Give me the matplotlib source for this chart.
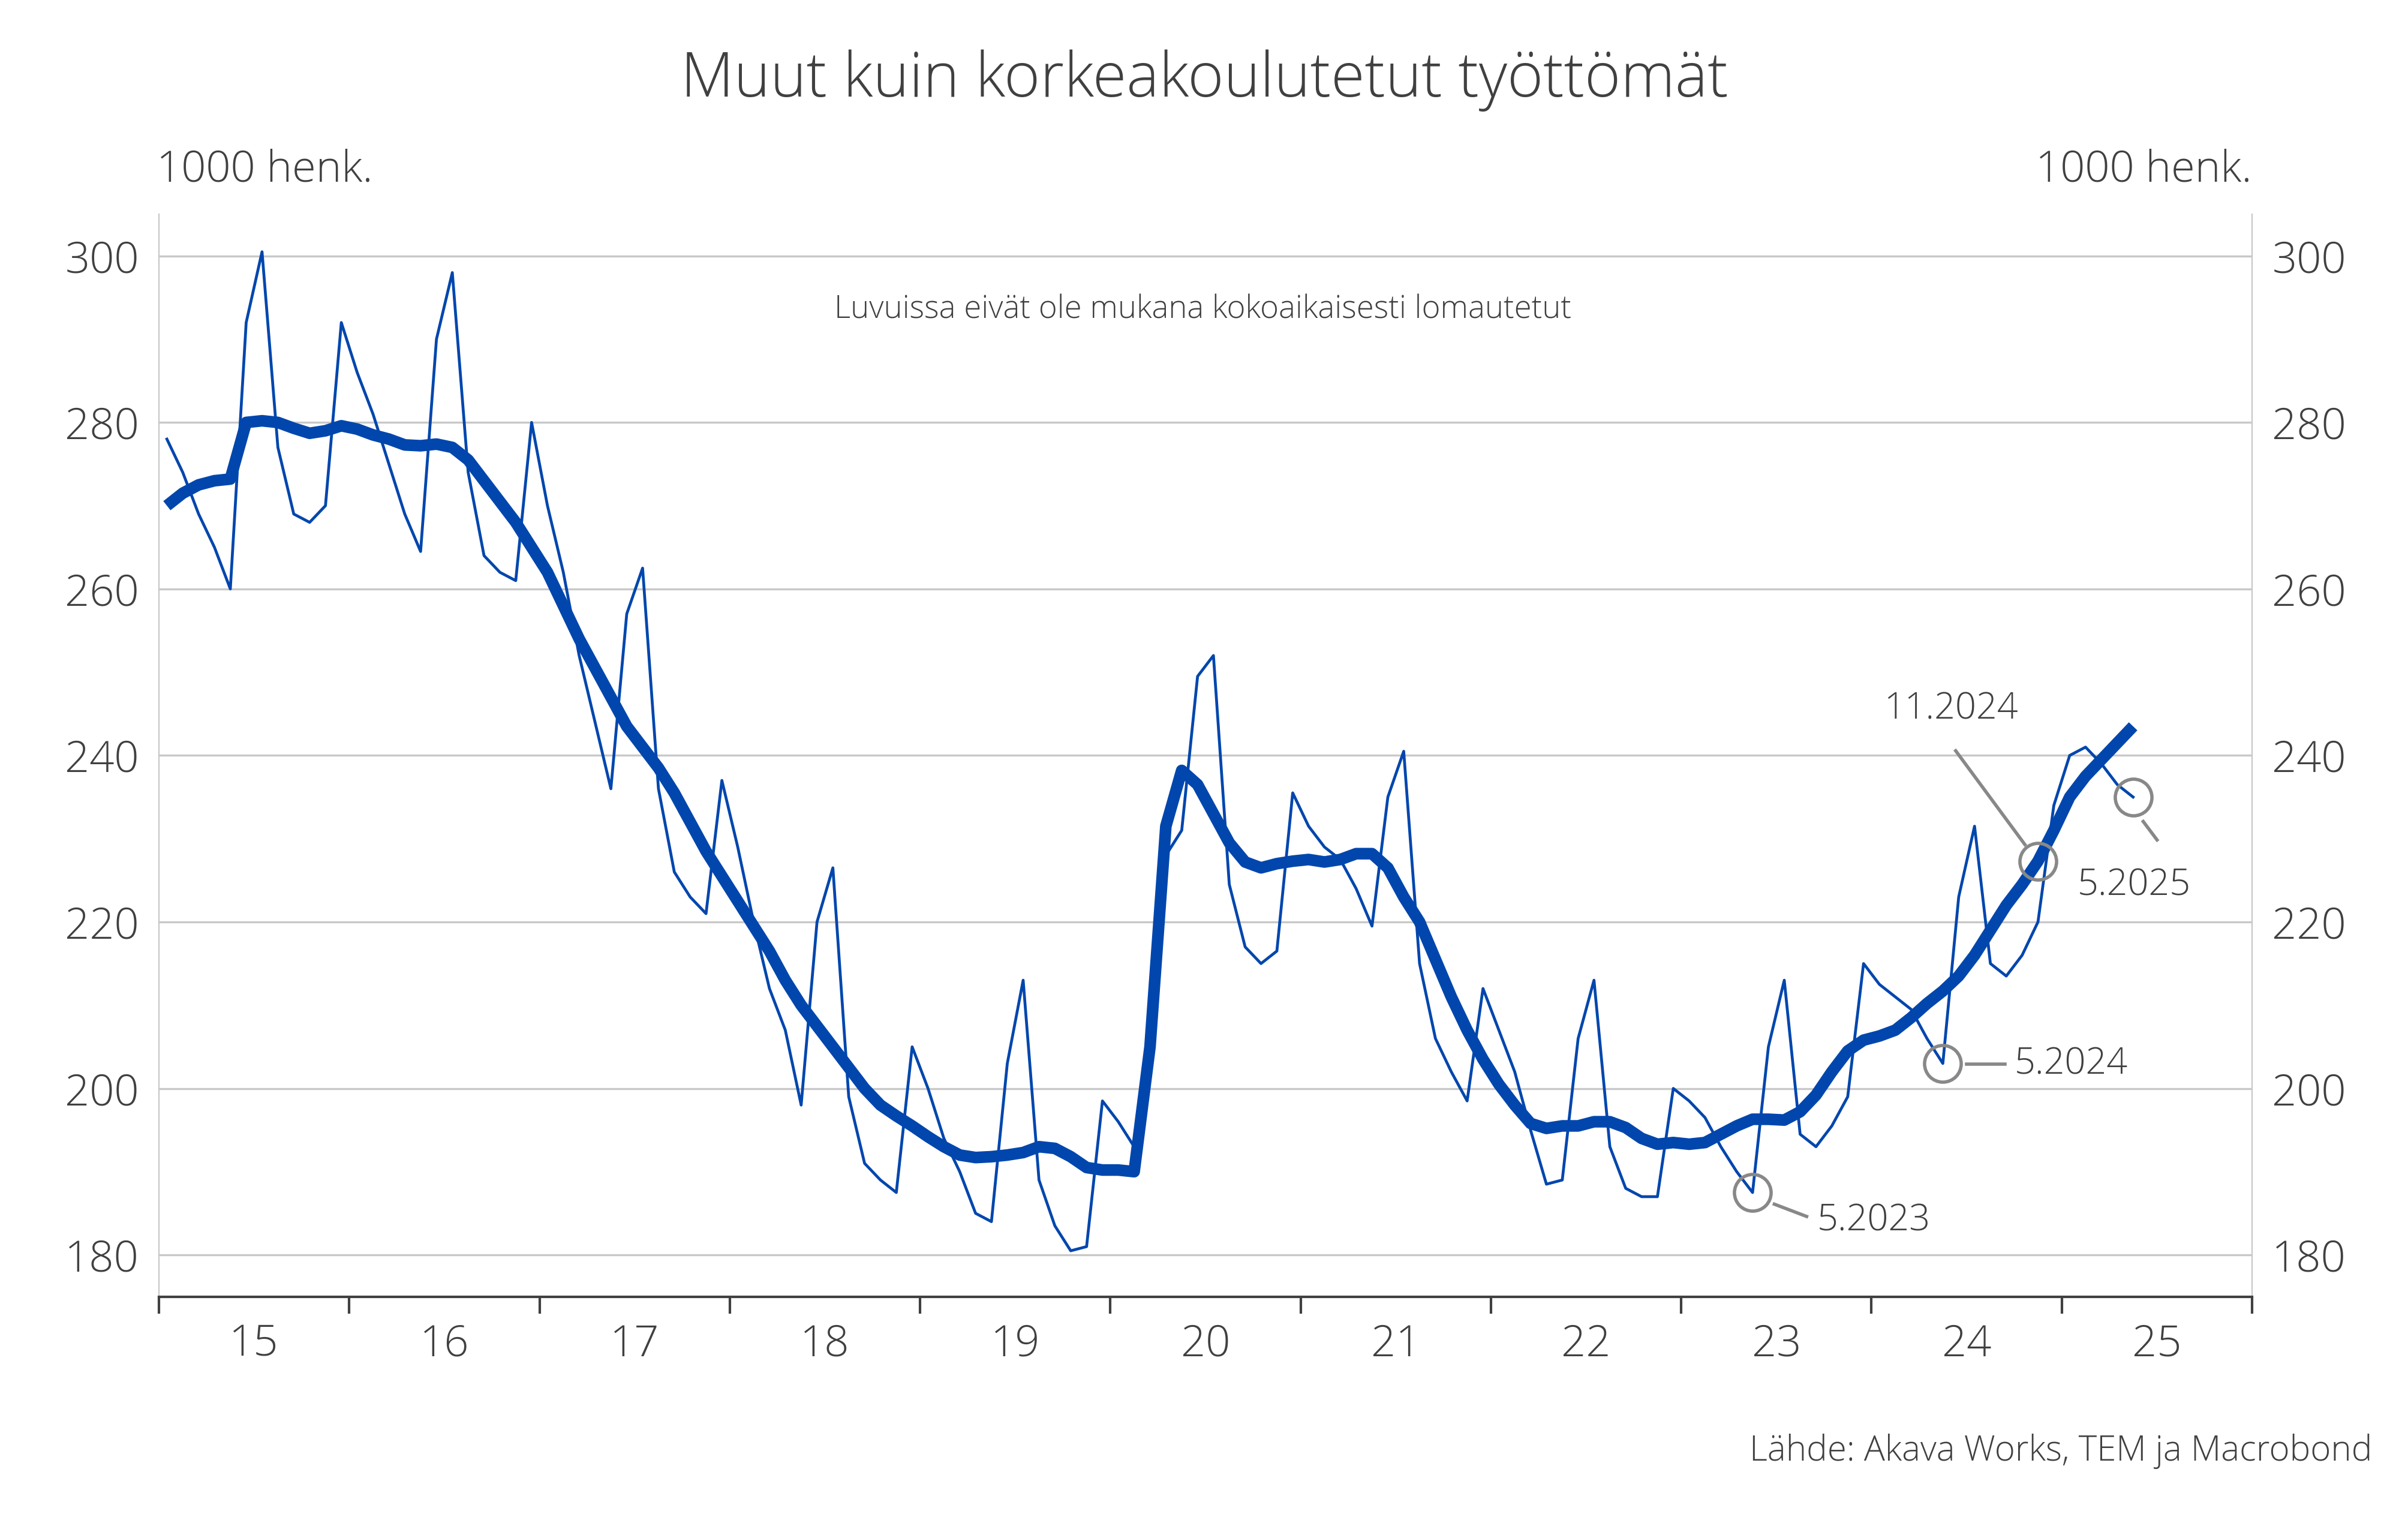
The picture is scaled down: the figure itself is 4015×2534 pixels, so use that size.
import matplotlib
matplotlib.use("Agg")
import matplotlib.pyplot as plt
import numpy as np

start_year = 2015
monthly = [278,274,269,265,260,292,300.5,277,269,268,270,292,
           286,281,275,269,264.5,290,298,274,264,262,261,280,
           270,262,252,244,236,257,262.5,236,226,223,221,237,
           229,220,212,207,198,220,226.5,199,191,189,187.5,205,
           200,194,190,185,184,203,213,189,183.5,180.5,181,198.5,
           196,193,206,228,231,249.5,252,224.5,217,215,216.5,235.5,
           231.5,229,227.5,224,219.5,235,240.5,215,206,202,198.5,212,
           207,202,195,188.5,189,206,213,193,188,187,187,200,
           198.5,196.5,193,190,187.5,205,213,194.5,193,195.5,199,215,
           212.5,211,209.5,206,203,223,231.5,215,213.5,216,220,234,
           240,241,239,236.5,235]
trend = [270,271.5,272.5,273,273.2,280,280.2,280,279.3,278.7,279,279.6,
         279.2,278.5,278,277.3,277.2,277.4,277,275.5,273,270.5,268,265,
         262,258,254,250.5,247,243.5,241,238.5,235.5,232,228.5,225.5,
         222.5,219.5,216.5,213,210,207.5,205,202.5,200,198,196.7,195.5,
         194.2,193,192,191.7,191.8,192,192.3,193,192.8,191.8,190.5,190.2,
         190.2,190,205,231.5,238.2,236.5,233,229.5,227.2,226.5,227,227.3,
         227.5,227.2,227.5,228.2,228.2,226.5,223,220,215.5,211,207,203.5,
         200.5,198,195.8,195.2,195.5,195.5,196,196,195.3,194,193.3,193.5,
         193.3,193.5,194.5,195.5,196.3,196.3,196.2,197.2,199.2,202,204.5,205.8,
         206.3,207,208.5,210.2,211.7,213.5,216,219,222,224.5,227.3,231,
         235,237.5,239.5,241.5,243.5]
year_labels = ["15","16","17","18","19","20","21","22","23","24","25"]
yticks = [180,200,220,240,260,280,300]

x = start_year + (np.arange(len(monthly)) + 0.5) / 12
blue = "#0046AD"; grey = "#404040"; lg = "#C8C8C8"; cg = "#888888"
FF = dict(family="Open Sans", weight="light")

fig = plt.figure(figsize=(20.08, 12.67), dpi=200)
ax = fig.add_axes([0.066, 0.147, 0.869, 0.712])
ax.set_ylim(175, 305); ax.set_xlim(2015, 2026)
ax.set_yticks(yticks)
ax.grid(axis="y", color=lg, lw=1.2)
ax.set_axisbelow(True)
ax.plot(x, monthly, color=blue, lw=1.7)
ax.plot(x, trend, color=blue, lw=7, solid_capstyle="butt")
ax.set_xticks(range(2015, 2027))
ax.set_xticklabels([])
ax.set_xticks([y + 0.5 for y in range(2015, 2026)], minor=True)
ax.set_xticklabels(year_labels, minor=True, fontsize=26, color=grey, **FF)
ax.tick_params(axis="x", which="major", length=10, width=1.5, color=grey)
ax.tick_params(axis="x", which="minor", length=0, pad=16)
ax.tick_params(axis="y", length=0, labelsize=26, labelcolor=grey, pad=12,
               labelleft=True, labelright=True)
for lab in ax.get_yticklabels():
    lab.set_family("Open Sans"); lab.set_weight("light")
for s in ["left", "right"]:
    ax.spines[s].set_color(lg)
ax.spines["top"].set_visible(False)
ax.spines["bottom"].set_color(grey); ax.spines["bottom"].set_linewidth(1.5)

def dc(xd, yd):
    return 2015 + (xd - 104) / 123.8, 300 - (yd - 167) / 5.417

ring = dict(marker="o", ms=22, mfc="none", mec=cg, mew=2, ls="none")
ax.plot(x[118], trend[118], **ring)
ax.plot(x[124], monthly[124], **ring)
ax.plot(x[112], monthly[112], **ring)
ax.plot(x[100], monthly[100], **ring)
for (a, b) in [((1273, 489), (1318, 550)), ((1395, 535), (1404, 547)),
               ((1280, 693), (1305, 693)), ((1155, 784), (1176, 792))]:
    p, q = dc(*a), dc(*b)
    ax.plot([p[0], q[0]], [p[1], q[1]], color=cg, lw=2)
for txt, pos, ha in [("11.2024", (1270, 462), "center"), ("5.2025", (1352, 577), "left"),
                     ("5.2024", (1311, 693), "left"), ("5.2023", (1183, 795), "left")]:
    ax.text(*dc(*pos), txt, ha=ha, va="center", fontsize=22, color=grey, **FF)
ax.text(*dc(783, 202), "Luvuissa eivät ole mukana kokoaikaisesti lomautetut",
        ha="center", va="center", fontsize=19, color=grey, **FF)

fig.text(0.5, 0.947, "Muut kuin korkeakoulutetut työttömät", ha="center", va="center",
         fontsize=37, color=grey, **FF)
fig.text(0.065, 0.888, "1000 henk.", ha="left", va="center", fontsize=26, color=grey, **FF)
fig.text(0.935, 0.888, "1000 henk.", ha="right", va="center", fontsize=26, color=grey, **FF)
fig.text(0.985, 0.045, "Lähde: Akava Works, TEM ja Macrobond", ha="right", va="center",
         fontsize=21, color=grey, **FF)
fig.savefig("out.png", dpi=200)
